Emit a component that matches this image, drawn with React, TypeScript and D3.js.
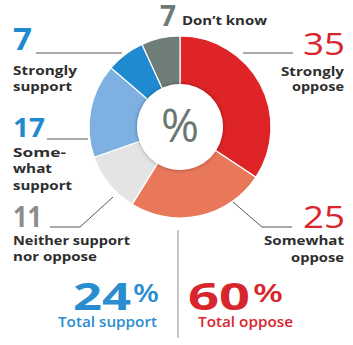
import React from "react";
import * as d3 from "d3";

const categories = ["Strongly oppose", "Somewhat oppose", "Neither support nor oppose", "Somewhat support", "Strongly support", "Don't know"];
const values = [35, 25, 11, 17, 7, 7];
const colors = ["#df2428", "#e9785b", "#e4e4e4", "#7eb1e1", "#1f8ad0", "#6f7d78"];
const totalValues = ["24", "60"];
const totalLabels = ["Total support", "Total oppose"];
const totalColors = ["#2a8dcf", "#d8262d"];

const W = 353, H = 345;
const cx = 180, cy = 127, R = 91, r0 = 42;
const font = "'Open Sans', 'Noto Sans', sans-serif";
const lbl = "#2e2e2e";
const lineC = "#555";

type TProps = { x: number; y: number; w: number; t: string | number; anchor?: "start" | "end"; size?: number; weight?: number; fill?: string };
function T({ x, y, w, t, anchor = "start", size = 13, weight = 700, fill = lbl }: TProps) {
  const sx = anchor === "end" ? x - w : x;
  return (
    <text x={sx} y={y} fontFamily={font} fontWeight={weight} fontSize={size} fill={fill}
      textLength={w} lengthAdjust="spacingAndGlyphs">{t}</text>
  );
}

export default function App() {
  const pie = d3.pie<number>().sort(null).value((d) => d);
  const arcs = pie(values);
  const arcGen = d3.arc<d3.PieArcDatum<number>>().innerRadius(r0).outerRadius(R);
  return (
    <svg width={W} height={H} style={{ position: "absolute", left: 0, top: 0, background: "#fff" }}>
      <defs>
        <filter id="sh" x="-30%" y="-30%" width="160%" height="160%">
          <feGaussianBlur in="SourceAlpha" stdDeviation="2" result="b" />
          <feFlood floodColor="#000" floodOpacity="0.35" />
          <feComposite in2="b" operator="in" />
          <feMerge>
            <feMergeNode />
            <feMergeNode in="SourceGraphic" />
          </feMerge>
        </filter>
      </defs>
      <g transform={`translate(${cx},${cy})`}>
        {arcs.map((a, i) => (
          <path key={categories[i]} d={arcGen(a) || ""} fill={colors[i]} stroke="#fff" strokeWidth={1.2} />
        ))}
        <circle r={r0 + 1} fill="#fff" filter="url(#sh)" />
        <text x={0} y={15} textAnchor="middle" fontFamily={font} fontSize={46} fontWeight={400} fill="#6a7772">%</text>
      </g>

      {/* Don't know */}
      <T x={160} y={26} w={16} t={values[5]} size={28} fill="#6f7a77" />
      <T x={182} y={25} w={85} t="Don’t know" />

      {/* Strongly oppose */}
      <T x={345} y={55} w={42} t={values[0]} anchor="end" size={31} weight={500} fill="#d8262d" />
      <line x1={243} y1={53} x2={293} y2={53} stroke={lineC} strokeWidth={1} />
      <T x={344} y={76} w={63} t="Strongly" anchor="end" />
      <T x={344} y={91} w={52} t="oppose" anchor="end" />

      {/* Strongly support */}
      <T x={13} y={50} w={19} t={values[4]} size={30} fill="#1f8ad0" />
      <line x1={36} y1={53} x2={122} y2={53} stroke={lineC} strokeWidth={1} />
      <T x={13} y={75} w={64} t="Strongly" />
      <T x={13} y={91} w={59} t="support" />

      {/* Somewhat support */}
      <T x={13} y={137} w={32} t={values[3]} size={27} fill="#1f8ad0" />
      <line x1={47} y1={139} x2={88} y2={139} stroke={lineC} strokeWidth={1} />
      <T x={13} y={157} w={53} t="Some-" />
      <T x={13} y={173} w={39} t="what" />
      <T x={13} y={190} w={59} t="support" />

      {/* Neither */}
      <T x={13} y={227} w={29} t={values[2]} size={29} fill="#8c8c8c" />
      <polyline points="50,227 80,227 113,197" fill="none" stroke={lineC} strokeWidth={1} />
      <T x={13} y={245} w={117} t="Neither support" />
      <T x={13} y={261} w={84} t="nor oppose" />

      {/* Somewhat oppose */}
      <T x={345} y={228} w={42} t={values[1]} anchor="end" size={31} weight={500} fill="#d8262d" />
      <polyline points="233,202 262,227 292,227" fill="none" stroke={lineC} strokeWidth={1} />
      <T x={344} y={245} w={80} t="Somewhat" anchor="end" />
      <T x={344} y={262} w={53} t="oppose" anchor="end" />

      {/* divider */}
      <line x1={178} y1={230} x2={178} y2={338} stroke="#b5b5b5" strokeWidth={1.5} />

      {/* totals */}
      <T x={73} y={310} w={58} t={totalValues[0]} size={37} fill={totalColors[0]} />
      <T x={133} y={302} w={26} t="%" size={25} weight={600} fill={totalColors[0]} />
      <T x={58} y={327} w={99} t={totalLabels[0]} size={13.5} weight={600} fill={totalColors[0]} />

      <T x={188} y={310} w={62} t={totalValues[1]} size={37} fill={totalColors[1]} />
      <T x={253} y={302} w={30} t="%" size={25} weight={600} fill={totalColors[1]} />
      <T x={198} y={327} w={95} t={totalLabels[1]} size={13.5} weight={600} fill={totalColors[1]} />
    </svg>
  );
}
